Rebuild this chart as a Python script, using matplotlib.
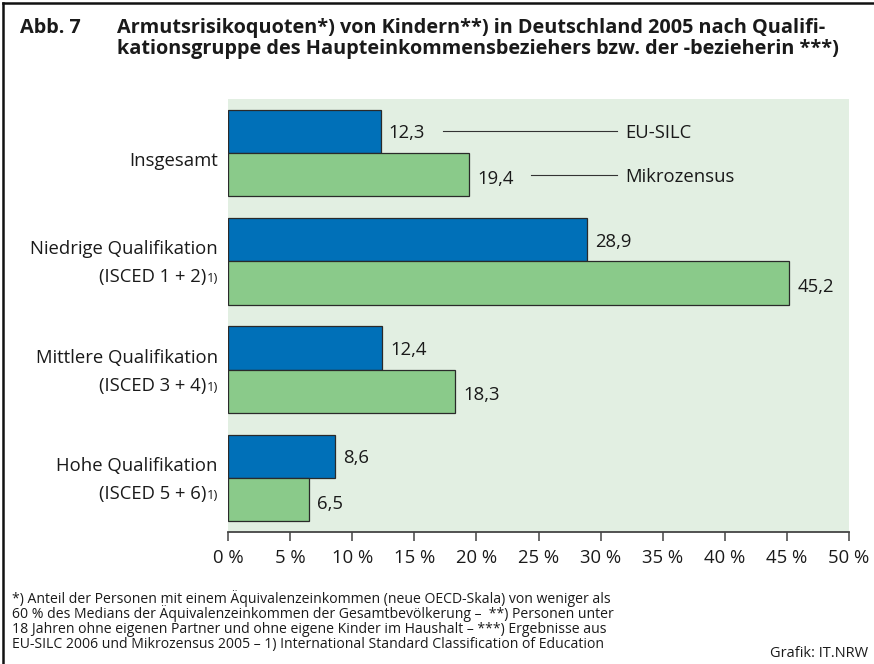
import matplotlib
matplotlib.use("Agg")
import matplotlib.pyplot as plt
from matplotlib.lines import Line2D

# data
kategorien = ["Insgesamt", "Niedrige Qualifikation", "Mittlere Qualifikation", "Hohe Qualifikation"]
isced = ["", "(ISCED 1 + 2)", "(ISCED 3 + 4)", "(ISCED 5 + 6)"]
eu_silc = [12.3, 28.9, 12.4, 8.6]
mikrozensus = [19.4, 45.2, 18.3, 6.5]
xticks = [0, 5, 10, 15, 20, 25, 30, 35, 40, 45, 50]
xticklabels = ["%d %%" % t for t in xticks]

titel1 = "Armutsrisikoquoten*) von Kindern**) in Deutschland 2005 nach Qualifi-"
titel2 = "kationsgruppe des Haupteinkommensbeziehers bzw. der -bezieherin ***)"
fussnote = ["*) Anteil der Personen mit einem Äquivalenzeinkommen (neue OECD-Skala) von weniger als",
            "60 % des Medians der Äquivalenzeinkommen der Gesamtbevölkerung –  **) Personen unter",
            "18 Jahren ohne eigenen Partner und ohne eigene Kinder im Haushalt – ***) Ergebnisse aus",
            "EU-SILC 2006 und Mikrozensus 2005 – 1) International Standard Classification of Education"]

plt.rcParams['font.family'] = ['Open Sans', 'DejaVu Sans']
blau = '#0070b8'
gruen = '#8aca8a'
hg = '#e2efe2'
txt = '#1a1a1a'
fs = 13.3

W, H = 874, 664
fig = plt.figure(figsize=(W / 100, H / 100), dpi=100)
ax = fig.add_axes([228 / W, (H - 532) / H, (849 - 228) / W, (532 - 99) / H])
ax.set_facecolor(hg)

ypos = list(range(len(kategorien)))
h = 0.4
ax.barh([y - h / 2 for y in ypos], eu_silc, height=h, color=blau, edgecolor='#2a2a2a', linewidth=0.9)
ax.barh([y + h / 2 for y in ypos], mikrozensus, height=h, color=gruen, edgecolor='#2a2a2a', linewidth=0.9)

ax.set_xlim(0, 50)
ax.set_ylim(3.5, -0.5)
ax.set_xticks(xticks)
ax.set_xticklabels(xticklabels, fontsize=fs, color=txt)
ax.set_yticks([])
for s in ['top', 'right', 'left']:
    ax.spines[s].set_visible(False)
ax.spines['bottom'].set_color('#444444')
ax.spines['bottom'].set_linewidth(1.3)
ax.tick_params(axis='x', direction='out', length=6.5, width=1.1, color='#444444', pad=6)

# value labels
for y, a, b in zip(ypos, eu_silc, mikrozensus):
    ax.annotate(("%.1f" % a).replace('.', ','), xy=(a, y - h / 2), xytext=(8, -2),
                textcoords='offset pixels', va='center', ha='left', fontsize=fs, color=txt)
    ax.annotate(("%.1f" % b).replace('.', ','), xy=(b, y + h / 2), xytext=(8, -4),
                textcoords='offset pixels', va='center', ha='left', fontsize=fs, color=txt)

# legend lines
ax.plot([17.3, 31.3], [-h / 2, -h / 2], color='#333333', lw=0.8)
ax.plot([24.4, 31.3], [h / 2, h / 2], color='#333333', lw=0.8)
ax.annotate("EU-SILC", xy=(32.0, -h / 2), xytext=(0, -2), textcoords='offset pixels',
            va='center', ha='left', fontsize=fs, color=txt)
ax.annotate("Mikrozensus", xy=(32.0, h / 2), xytext=(0, -2), textcoords='offset pixels',
            va='center', ha='left', fontsize=fs, color=txt)

# category labels
tr = ax.get_yaxis_transform()
fig.canvas.draw()
for y, k, sub in zip(ypos, kategorien, isced):
    if sub == "":
        ax.annotate(k, xy=(0, y), xycoords=tr, xytext=(-10, -13), textcoords='offset pixels',
                    ha='right', va='baseline', fontsize=fs, color=txt)
        continue
    ax.annotate(k, xy=(0, y), xycoords=tr, xytext=(-10, 7), textcoords='offset pixels',
                ha='right', va='baseline', fontsize=fs, color=txt)
    t1 = ax.annotate("1)", xy=(0, y), xycoords=tr, xytext=(-10, -21), textcoords='offset pixels',
                     ha='right', va='baseline', fontsize=9.5, color=txt)
    w = t1.get_window_extent(fig.canvas.get_renderer()).width
    ax.annotate(sub, xy=(0, y), xycoords=tr, xytext=(-10 - w, -21), textcoords='offset pixels',
                ha='right', va='baseline', fontsize=fs, color=txt)

# title
fig.text(20 / W, 1 - 33 / H, "Abb. 7", fontsize=14.3, fontweight='bold', va='baseline', ha='left', color=txt)
fig.text(117 / W, 1 - 33 / H, titel1, fontsize=14.3, fontweight='bold', va='baseline', ha='left', color=txt)
fig.text(117 / W, 1 - 54 / H, titel2, fontsize=14.3, fontweight='bold', va='baseline', ha='left', color=txt)

# footnotes
for i, zeile in enumerate(fussnote):
    fig.text(12 / W, 1 - (603 + 15 * i) / H, zeile, fontsize=10.1, va='baseline', ha='left', color=txt)
fig.text(868 / W, 1 - 657 / H, "Grafik: IT.NRW", fontsize=10.5, va='baseline', ha='right', color=txt)

# frame (top and left)
fig.add_artist(Line2D([3 / W, 3 / W], [0, 1 - 3 / H], transform=fig.transFigure, color='#111111', lw=1.8))
fig.add_artist(Line2D([3 / W, 1], [1 - 3 / H, 1 - 3 / H], transform=fig.transFigure, color='#111111', lw=1.8))

fig.savefig("out.png", dpi=100)
